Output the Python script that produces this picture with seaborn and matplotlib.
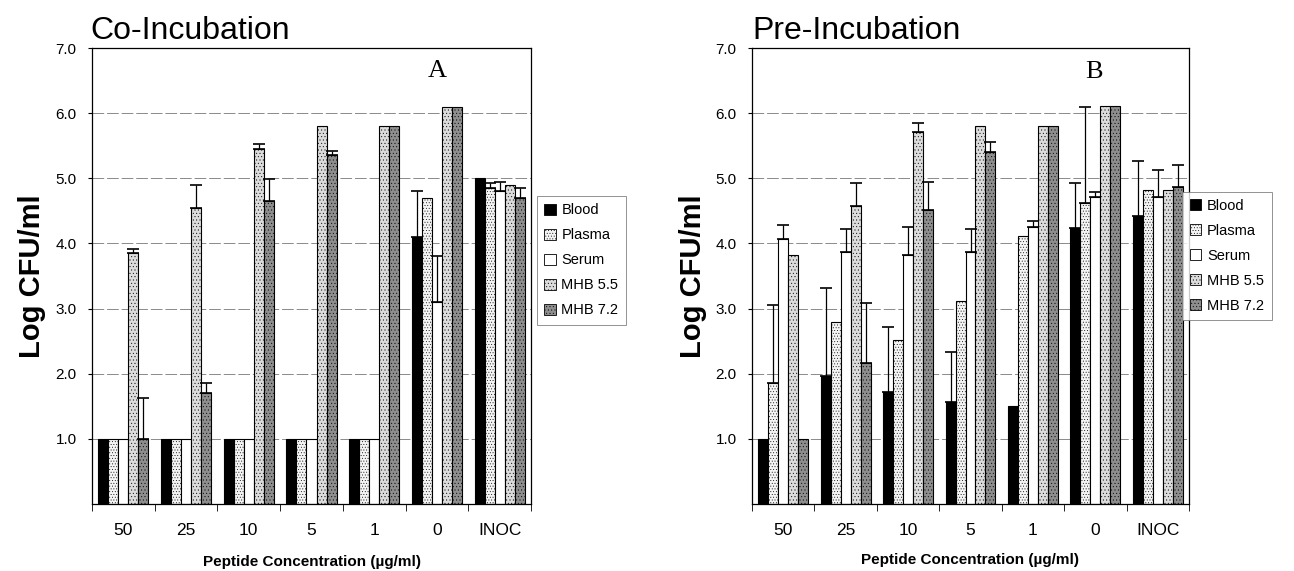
import numpy as np
import pandas as pd
import seaborn as sns
import matplotlib.pyplot as plt
from matplotlib.patches import Patch

# peptide concentrations on the x axis and the five growth media
groups = ['50', '25', '10', '5', '1', '0', 'INOC']
series = ['Blood', 'Plasma', 'Serum', 'MHB 5.5', 'MHB 7.2']

# Co-Incubation (panel A) - log CFU/ml
co_blood = [1.0, 1.0, 1.0, 1.0, 1.0, 4.1, 5.0]
co_plasma = [1.0, 1.0, 1.0, 1.0, 1.0, 4.7, 4.85]
co_serum = [1.0, 1.0, 1.0, 1.0, 1.0, 3.1, 4.8]
co_mhb55 = [3.85, 4.55, 5.45, 5.8, 5.8, 6.1, 4.9]
co_mhb72 = [1.0, 1.7, 4.65, 5.35, 5.8, 6.1, 4.7]
# upper error bars
co_blood_err = [0, 0, 0, 0, 0, 0.7, 0]
co_plasma_err = [0, 0, 0, 0, 0, 0, 0.07]
co_serum_err = [0, 0, 0, 0, 0, 0.7, 0.14]
co_mhb55_err = [0.07, 0.35, 0.08, 0, 0, 0, 0]
co_mhb72_err = [0.63, 0.15, 0.34, 0.07, 0, 0, 0.15]

# Pre-Incubation (panel B)
pre_blood = [1.0, 1.97, 1.72, 1.56, 1.5, 4.23, 4.42]
pre_plasma = [1.85, 2.8, 2.51, 3.12, 4.11, 4.62, 4.82]
pre_serum = [4.07, 3.87, 3.82, 3.87, 4.25, 4.71, 4.71]
pre_mhb55 = [3.82, 4.57, 5.71, 5.8, 5.8, 6.11, 4.82]
pre_mhb72 = [1.0, 2.17, 4.51, 5.4, 5.8, 6.11, 4.86]
pre_blood_err = [0, 1.35, 0.99, 0.78, 0, 0.69, 0.84]
pre_plasma_err = [1.21, 0, 0, 0, 0, 1.47, 0]
pre_serum_err = [0.21, 0.35, 0.43, 0.35, 0.09, 0.08, 0.41]
pre_mhb55_err = [0, 0.35, 0.14, 0, 0, 0, 0]
pre_mhb72_err = [0, 0.91, 0.43, 0.16, 0, 0, 0.34]

# fill look of each medium
colors = {'Blood': '#000000', 'Plasma': '#f4f4f4', 'Serum': '#ffffff',
          'MHB 5.5': '#dcdcdc', 'MHB 7.2': '#8e8e8e'}
hatches = {'Blood': '', 'Plasma': '......', 'Serum': '', 'MHB 5.5': '.....', 'MHB 7.2': '.....'}

sns.set_style('white')
plt.rcParams['font.family'] = ['Liberation Sans', 'DejaVu Sans']
plt.rcParams['hatch.linewidth'] = 0.3
for key in ('text.color', 'axes.labelcolor', 'xtick.color', 'ytick.color'):
    plt.rcParams[key] = 'black'


def long_form(vals, errs):
    rows = []
    for s, v, e in zip(series, vals, errs):
        for g, y, ye in zip(groups, v, e):
            rows.append({'conc': g, 'logcfu': y, 'err': ye, 'medium': s})
    return pd.DataFrame(rows)


co_df = long_form([co_blood, co_plasma, co_serum, co_mhb55, co_mhb72],
                  [co_blood_err, co_plasma_err, co_serum_err, co_mhb55_err, co_mhb72_err])
pre_df = long_form([pre_blood, pre_plasma, pre_serum, pre_mhb55, pre_mhb72],
                   [pre_blood_err, pre_plasma_err, pre_serum_err, pre_mhb55_err, pre_mhb72_err])

fig = plt.figure(figsize=(12.94, 5.71), dpi=100)
axA = fig.add_axes([92 / 1294, 67 / 571, 439 / 1294, 456 / 571])
axB = fig.add_axes([752 / 1294, 67 / 571, 437 / 1294, 456 / 571])


def draw_panel(ax, df, legend_x, legend_y):
    sns.barplot(data=df, x='conc', y='logcfu', hue='medium', order=groups,
                hue_order=series, palette=colors, edgecolor='black', linewidth=0.8,
                width=0.8, errorbar=None, legend=False, ax=ax)
    for s, cont in zip(series, ax.containers):
        sub = df[df['medium'] == s].set_index('conc').loc[groups]
        for bar, e in zip(cont.patches, sub['err']):
            bar.set_hatch(hatches[s])
            if e > 0:
                x = bar.get_x() + bar.get_width() / 2
                ax.errorbar(x, bar.get_height(), yerr=[[0], [e]], fmt='none',
                            ecolor='black', elinewidth=0.9, capsize=4, capthick=1.2)
    ax.set_ylim(0, 7)
    ax.set_xlim(-0.5, 6.5)
    ax.set_yticks(np.arange(1, 8))
    ax.set_yticklabels([f'{v:.1f}' for v in range(1, 8)], fontsize=11)
    ax.yaxis.grid(True, color='#8a8a8a', linestyle=(0, (12, 3)), linewidth=0.7)
    ax.set_axisbelow(True)
    ax.tick_params(axis='y', direction='out', length=3, pad=8, left=True)
    ax.tick_params(axis='x', which='major', length=0, pad=14, labelsize=12.5)
    ax.set_xticks(np.arange(-0.5, 7, 1), minor=True)
    ax.tick_params(axis='x', which='minor', direction='out', length=5, bottom=True)
    ax.set_xlabel('')
    ax.set_ylabel('')
    for sp in ax.spines.values():
        sp.set_visible(True)
        sp.set_color('black')
        sp.set_linewidth(0.9)
    handles = [Patch(facecolor=colors[s], edgecolor='black', hatch=hatches[s], linewidth=0.6)
               for s in series]
    leg = ax.legend(handles, series, loc='upper left', bbox_to_anchor=(legend_x, legend_y),
                    frameon=True, fancybox=False, fontsize=10.5, handlelength=0.8,
                    handleheight=0.8, handletextpad=0.4, labelspacing=0.75,
                    borderpad=0.5, borderaxespad=0)
    leg.get_frame().set_edgecolor('#777777')
    leg.get_frame().set_linewidth(0.7)


draw_panel(axA, co_df, 1.013, 0.675)
draw_panel(axB, pre_df, 0.985, 0.685)

fig.text(90 / 1294, 1 - 39 / 571, 'Co-Incubation', fontsize=23, va='baseline')
fig.text(752 / 1294, 1 - 39 / 571, 'Pre-Incubation', fontsize=23, va='baseline')
fig.text(437 / 1294, 1 - 71 / 571, 'A', fontsize=19, family='Liberation Serif', ha='center', va='center')
fig.text(1094 / 1294, 1 - 72 / 571, 'B', fontsize=19, family='Liberation Serif', ha='center', va='center')
for xc in (32, 693):
    fig.text(xc / 1294, 1 - 276 / 571, 'Log CFU/ml', fontsize=21, fontweight='bold',
             rotation=90, ha='center', va='center')
fig.text(312 / 1294, 1 - 562 / 571, 'Peptide Concentration (\u00b5g/ml)', fontsize=11,
         fontweight='bold', ha='center', va='center')
fig.text(970 / 1294, 1 - 560 / 571, 'Peptide Concentration (\u00b5g/ml)', fontsize=11,
         fontweight='bold', ha='center', va='center')

fig.savefig('out.png', dpi=100)
